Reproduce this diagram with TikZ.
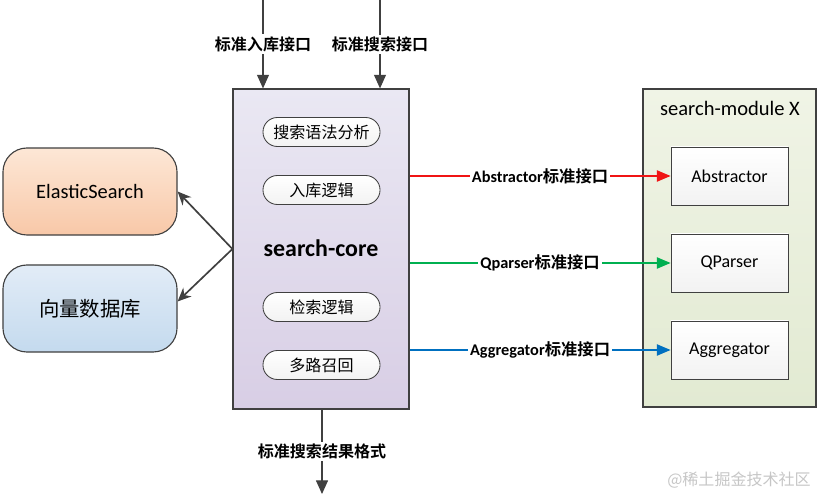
\documentclass[tikz,border=0pt]{standalone}
\usepackage{fontspec}
\setmainfont{Carlito}
\newfontfamily\cjk{Noto Sans CJK SC}[BoldFont={Noto Sans CJK SC Bold}]
\usetikzlibrary{positioning,arrows.meta}

\definecolor{boxline}{RGB}{64,64,64}
\definecolor{coretop}{RGB}{234,232,243}
\definecolor{corebot}{RGB}{216,206,229}
\definecolor{estop}{RGB}{253,231,214}
\definecolor{esbot}{RGB}{248,200,168}
\definecolor{vdbtop}{RGB}{226,236,247}
\definecolor{vdbbot}{RGB}{196,218,238}
\definecolor{modtop}{RGB}{240,244,230}
\definecolor{modbot}{RGB}{226,234,210}
\definecolor{absred}{RGB}{240,20,20}
\definecolor{qpgreen}{RGB}{0,176,80}
\definecolor{aggblue}{RGB}{0,112,192}

\tikzset{
    corebox/.style={draw=boxline, line width=0.8pt, top color=coretop, bottom color=corebot,
                    minimum width=4.4cm, minimum height=8cm},
    pill/.style={draw=boxline, line width=0.6pt, rounded corners=3.6mm, top color=white, bottom color=gray!10,
                 minimum width=2.925cm, minimum height=0.725cm, font=\cjk\fontsize{11.4}{13}\selectfont},
    storebox/.style={draw=boxline, line width=0.8pt, rounded corners=6mm,
                     minimum width=4.35cm, minimum height=2.175cm, font=\fontsize{14.5}{17}\selectfont},
    modbox/.style={draw=boxline, line width=0.8pt, top color=modtop, bottom color=modbot,
                   minimum width=4.325cm, minimum height=7.95cm},
    unitbox/.style={draw=boxline, line width=0.6pt, top color=white, bottom color=gray!10,
                    minimum width=2.925cm, minimum height=1.45cm, font=\fontsize{12.8}{15}\selectfont},
    iflabel/.style={fill=white, text=black, inner sep=1.5pt, font=\bfseries\fontsize{11.6}{14}\selectfont},
    darkarrow/.style={draw=boxline, line width=0.8pt, -{Triangle[length=3.4mm, width=3mm]}},
    colarrow/.style={line width=0.9pt, -{Triangle[length=3.4mm, width=2.8mm]}},
    greyarrow/.style={draw=boxline, line width=1.2pt, -{Stealth[length=3.4mm, width=3mm]}}
}

\begin{document}
\begin{tikzpicture}[x=0.025cm, y=-0.025cm]
    \useasboundingbox (0,0) rectangle (822,497);

    % 1. search-core
    \node[corebox] (core) at (321,249) {};
    \node[font=\bfseries\fontsize{17}{20}\selectfont] (coretitle) at (321,248) {search-core};
    \node[pill] (syntax) at (321.5,132) {搜索语法分析};
    \node[pill] (inlogic) at (321.5,190) {入库逻辑};
    \node[pill] (searchlogic) at (321.5,307) {检索逻辑};
    \node[pill] (recall) at (321.5,365) {多路召回};

    % 2. storage
    \node[storebox, top color=estop, bottom color=esbot] (es) at (90,191.5) {ElasticSearch};
    \node[storebox, top color=vdbtop, bottom color=vdbbot, font=\cjk\fontsize{14.5}{17}\selectfont] (vdb) at (90,308.5) {向量数据库};
    \draw[greyarrow] (core.west) -- (es.east);
    \draw[greyarrow] (core.west) -- ([yshift=5pt]vdb.east);

    % 3. search-module X
    \node[modbox] (mod) at (729.5,248) {};
    \node[font=\fontsize{14.6}{17}\selectfont] (modname) at (730,108) {search-module X};
    \node[unitbox] (abs) at (729.5,176) {Abstractor};
    \node[unitbox] (qp) at (729.5,263) {QParser};
    \node[unitbox] (agg) at (729.5,350) {Aggregator};

    \draw[colarrow, absred] (core.east |- abs) -- node[iflabel] (abslbl) {Abstractor{\cjk\bfseries 标准接口}} (abs.west);
    \draw[colarrow, qpgreen] (core.east |- qp) -- node[iflabel] (qplbl) {Qparser{\cjk\bfseries 标准接口}} (qp.west);
    \draw[colarrow, aggblue] (core.east |- agg) -- node[iflabel] (agglbl) {Aggregator{\cjk\bfseries 标准接口}} (agg.west);

    % 4. in / out
    \coordinate (inTop) at (263,0);
    \coordinate (qTop) at (380,0);
    \coordinate (outEnd) at (322,494);
    \draw[darkarrow] (inTop) -- node[iflabel, font=\cjk\bfseries\fontsize{11.4}{14}\selectfont] (inlbl) {标准入库接口} (core.north -| inTop);
    \draw[darkarrow] (qTop) -- node[iflabel, font=\cjk\bfseries\fontsize{11.4}{14}\selectfont] (qlbl) {标准搜索接口} (core.north -| qTop);
    \draw[darkarrow] (core.south -| outEnd) -- node[iflabel, font=\cjk\bfseries\fontsize{11.4}{14}\selectfont] (outlbl) {标准搜索结果格式} (outEnd);

    \node[font=\cjk\fontsize{11.4}{14}\selectfont, text=gray!45] (mark) at (739,480) {@稀土掘金技术社区};
\end{tikzpicture}
\end{document}
